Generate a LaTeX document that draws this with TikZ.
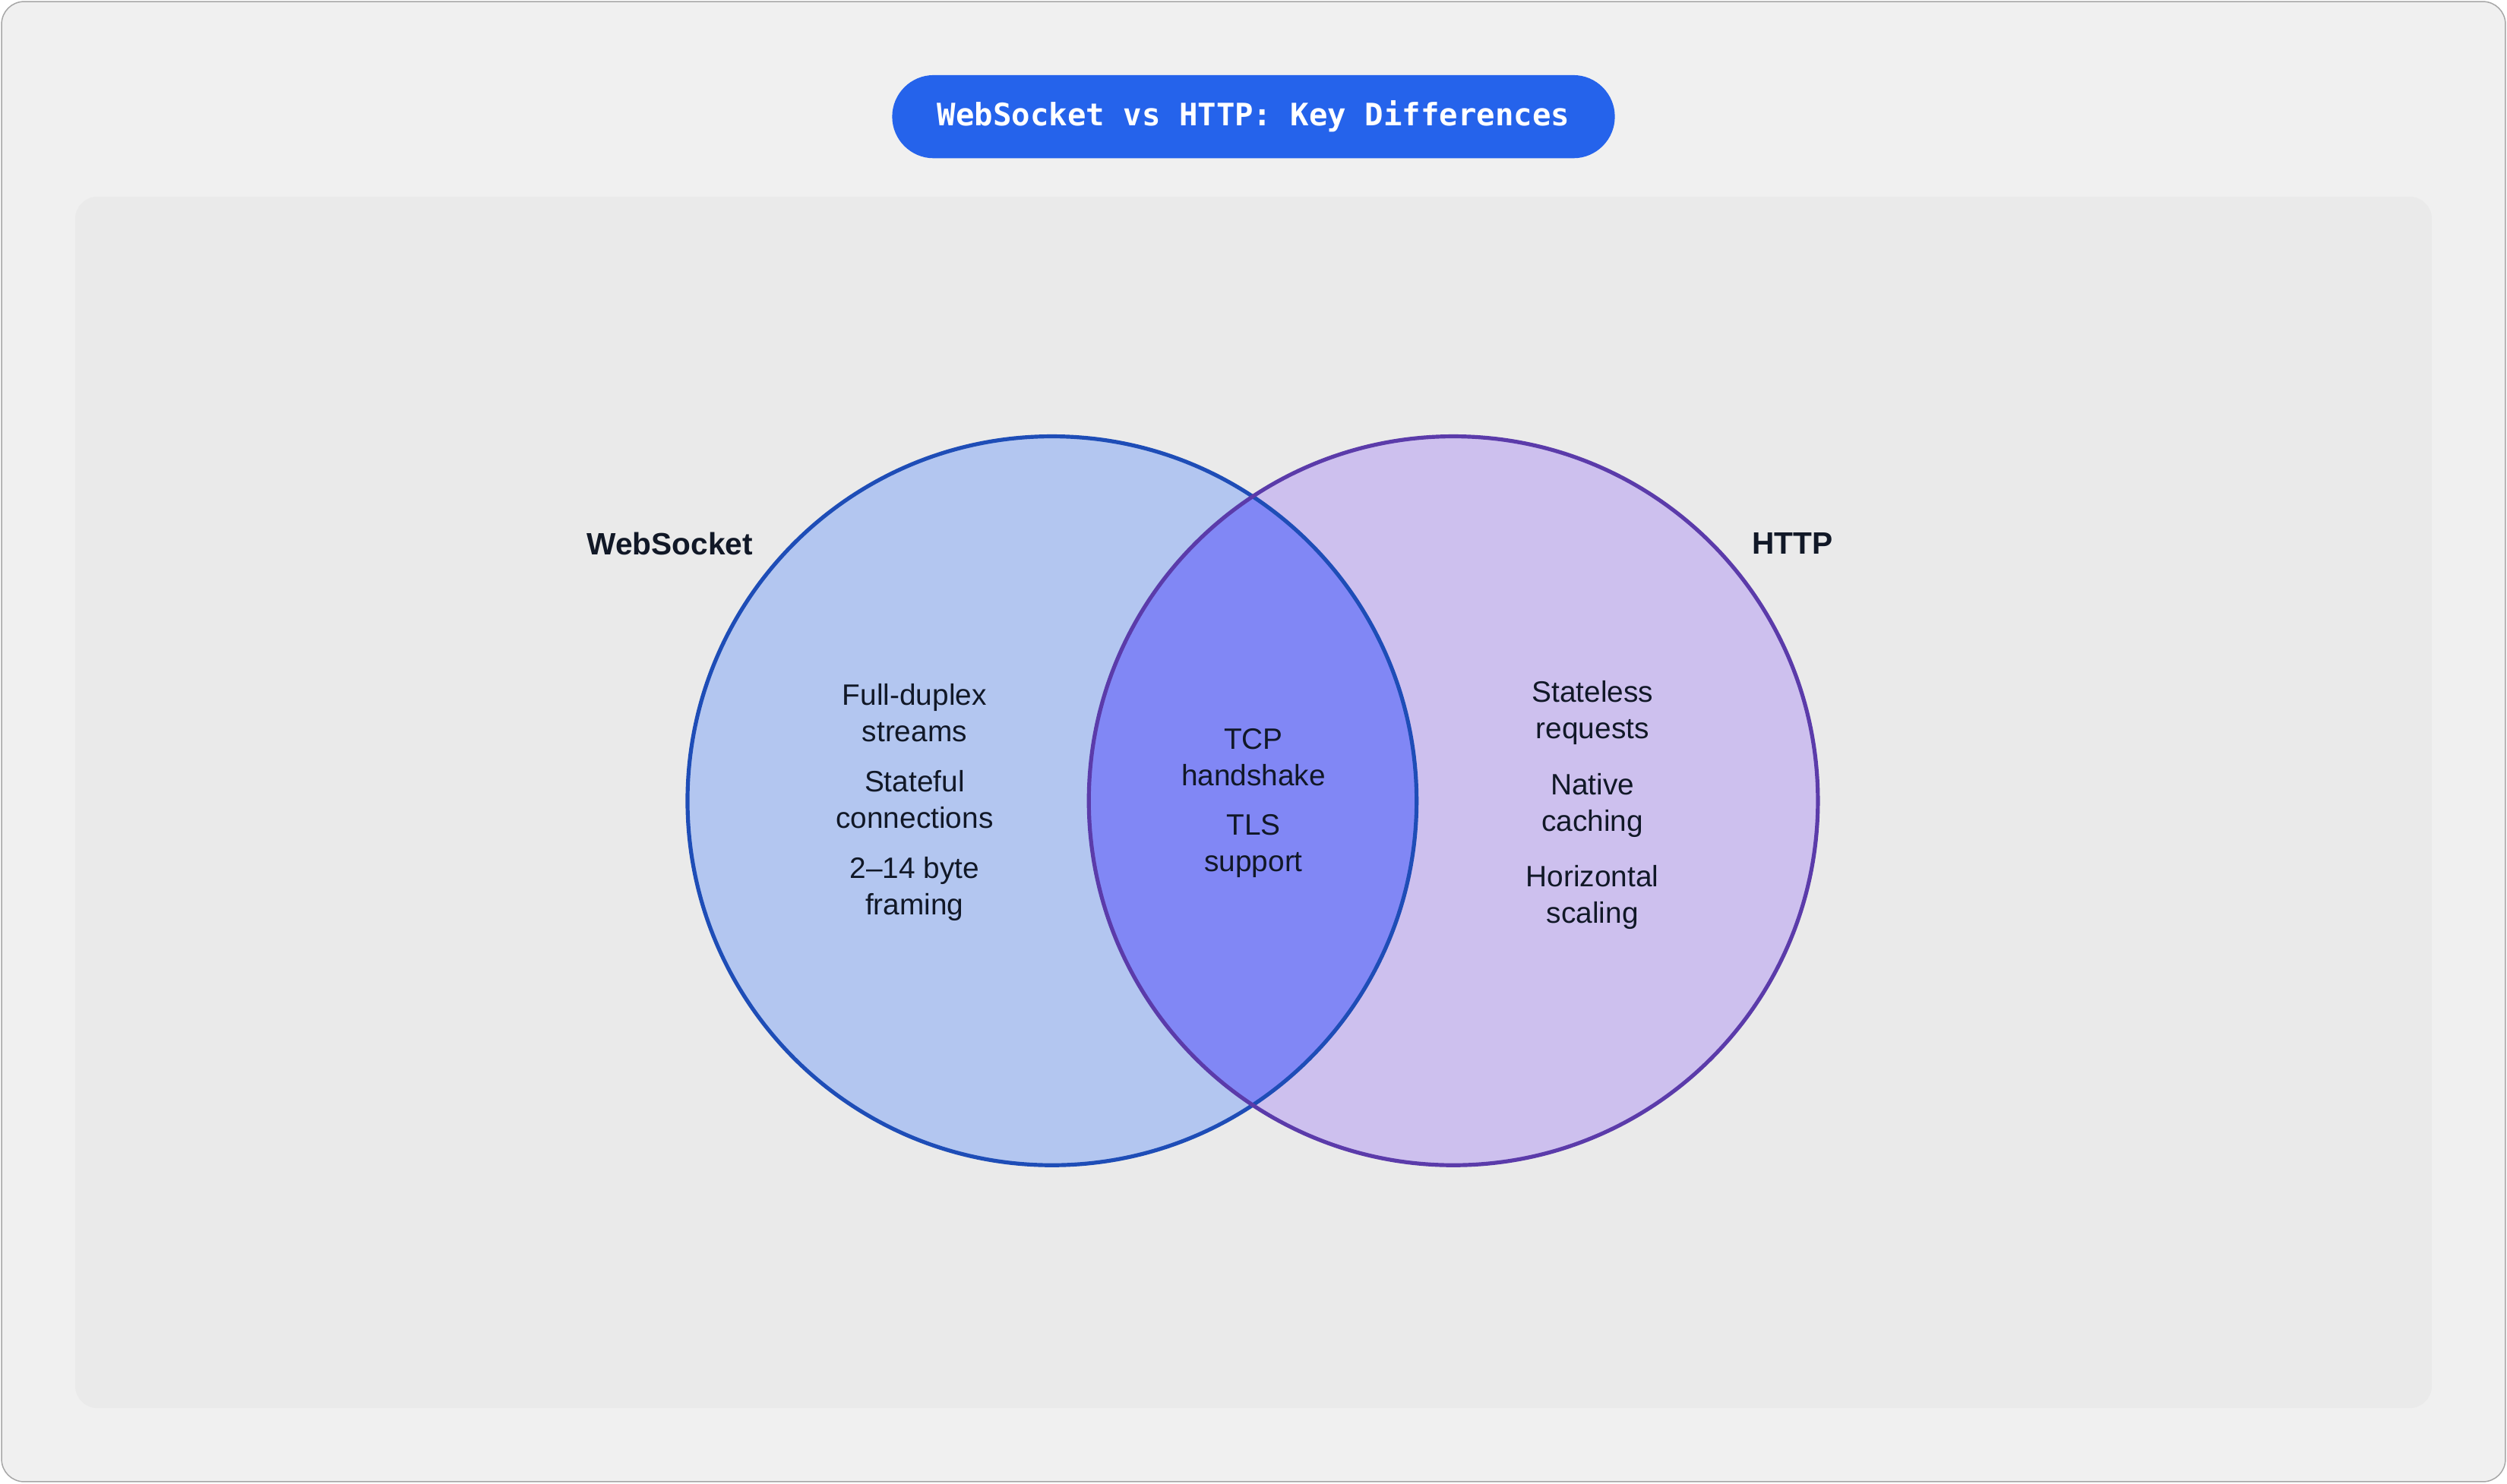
\documentclass[tikz,border=0pt]{standalone}
\usepackage{fontspec}
\setmainfont{Liberation Sans}
\newfontfamily\titlefont{DejaVu Sans Mono}
\usetikzlibrary{positioning}
\definecolor{pagebg}{HTML}{F0F0F0}
\definecolor{panelbg}{HTML}{EAEAEA}
\definecolor{titleblue}{HTML}{2563EB}
\definecolor{wsfill}{HTML}{B3C6F0}
\definecolor{wsline}{HTML}{1E4DB7}
\definecolor{httpfill}{HTML}{CDC0EE}
\definecolor{httpline}{HTML}{5B3BAA}
\definecolor{bothfill}{HTML}{8187F5}
\definecolor{inktext}{HTML}{111827}
\begin{document}
\begin{tikzpicture}[x=0.02cm,y=-0.02cm,
    set/.style={circle, minimum size=456*0.02cm, inner sep=0pt, line width=1.4pt},
    item/.style={align=center, font=\fontsize{10.5}{13}\selectfont, text=inktext},
    setname/.style={font=\bfseries\fontsize{11}{13}\selectfont, text=inktext}]
  \useasboundingbox (0,0) rectangle (1568,928);
  \draw[gray!70, fill=pagebg, rounded corners=8] (1,1) rectangle (1567,927);
  \fill[panelbg, rounded corners=8] (47,123) rectangle (1521,881);
  \node[fill=titleblue, rounded corners=13*0.02cm*2, minimum width=452*0.02cm,
        minimum height=52*0.02cm, text=white, font=\titlefont\bfseries\fontsize{11}{13}\selectfont]
        (title) at (784,73) {WebSocket vs HTTP: Key Differences};
  % sets
  \node[set, fill=wsfill] (ws) at (658,501) {};
  \node[set, fill=httpfill] (http) at (909,501) {};
  \begin{scope}
    \clip (658,501) circle [radius=228];
    \fill[bothfill] (909,501) circle [radius=228];
  \end{scope}
  \node[set, draw=wsline] at (ws.center) {};
  \node[set, draw=httpline] at (http.center) {};
  \node[setname] (wsname) at (419,340) {WebSocket};
  \node[setname] (httpname) at (1121,340) {HTTP};
  % items
  \node[item] (ws1) at (572,446) {Full-duplex\\streams};
  \node[item, below=3pt of ws1] (ws2) {Stateful\\connections};
  \node[item, below=3pt of ws2] (ws3) {2–14 byte\\framing};
  \node[item] (both1) at (784,474) {TCP\\handshake};
  \node[item, below=3pt of both1] (both2) {TLS\\support};
  \node[item] (http1) at (996,446) {Stateless\\requests};
  \node[item, below=3pt of http1] (http2) {Native\\caching};
  \node[item, below=3pt of http2] (http3) {Horizontal\\scaling};
\end{tikzpicture}
\end{document}
